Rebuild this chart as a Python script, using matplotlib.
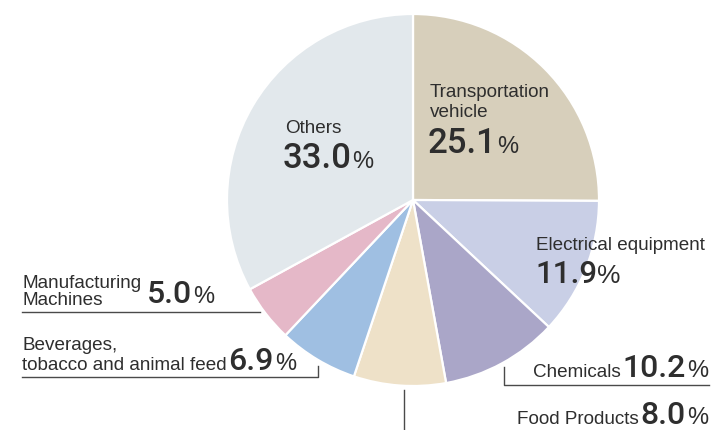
import matplotlib
matplotlib.use("Agg")
import matplotlib.pyplot as plt

categories = ["Transportation\nvehicle", "Electrical equipment", "Chemicals",
              "Food Products", "Beverages,\ntobacco and animal feed",
              "Manufacturing\nMachines", "Others"]
shares = [25.1, 11.9, 10.2, 8.0, 6.9, 5.0, 33.0]
value_labels = ["25.1", "11.9", "10.2", "8.0", "6.9", "5.0", "33.0"]
colors = ["#d7cfbb", "#c9cfe6", "#aaa6c8", "#eee1c8", "#9fbfe2", "#e5b8c8", "#e2e8ec"]

W, H = 715, 430
fig = plt.figure(figsize=(W / 100, H / 100), dpi=100)
ax = fig.add_axes([0, 0, 1, 1])
ax.set_xlim(0, W)
ax.set_ylim(0, H)
ax.set_aspect("equal")
ax.axis("off")

def Y(y):
    return H - y

ax.pie(shares, colors=colors, startangle=90, counterclock=False,
       center=(413, Y(200)), radius=186,
       wedgeprops=dict(edgecolor="white", linewidth=1.6))
ax.set_xlim(0, W)
ax.set_ylim(0, H)

FONT = "Liberation Sans"
NFONT = "Roboto"
TC = "#2e2e2e"
renderer = fig.canvas.get_renderer()

def px_width(t):
    return t.get_window_extent(renderer=renderer).width

def pieces(x, y, parts, align="left", gap=0.0):
    """parts: list of (text, fontsize, is_number); baseline at pixel y."""
    objs = []
    for s, fs, num in parts:
        t = ax.text(0, Y(y), s, fontsize=fs,
                    family=NFONT if num else FONT,
                    fontweight=500 if num else "normal",
                    color=TC, ha="left", va="baseline")
        objs.append(t)
    widths = [px_width(t) + gap for t in objs]
    total = sum(widths) - gap
    cx = x if align == "left" else x - total
    for t, w in zip(objs, widths):
        t.set_x(cx)
        cx += w
    return objs

LS = 13.6  # label font size

# Transportation vehicle
pieces(430, 97, [("Transportation", LS, False)])
pieces(430, 117, [("vehicle", LS, False)])
pieces(428, 153, [(value_labels[0], 25, True), ("%", 17, False)])

# Others
pieces(285, 133, [("Others", LS, False)])
pieces(283, 168, [(value_labels[6], 25, True), ("%", 17, False)])

# Electrical equipment
pieces(536, 250, [("Electrical equipment", LS, False)])
pieces(535, 283, [(value_labels[1], 22.5, True), ("%", 19, False)])

# Chemicals
pieces(708, 377, [("Chemicals", LS, False), (value_labels[2], 23, True), ("%", 17, False)],
       align="right", gap=1.5)

# Food Products
pieces(708, 424, [("Food Products", LS, False), (value_labels[3], 23, True), ("%", 17, False)],
       align="right", gap=1.5)

# Manufacturing Machines
pieces(22, 288, [("Manufacturing", LS, False)])
pieces(22, 305, [("Machines", LS, False)])
pieces(147, 303, [(value_labels[5], 23, True), ("%", 17, False)], gap=1.5)

# Beverages
pieces(22, 350, [("Beverages,", LS, False)])
pieces(22, 370, [("tobacco and animal feed", LS, False), (value_labels[4], 23, True), ("%", 17, False)],
       gap=1.5)

# Leader lines
LC = "#4a4a4a"
lw = 1.0
ax.plot([22, 260], [Y(312), Y(312)], color=LC, lw=lw)
ax.plot([22, 318, 318], [Y(377), Y(377), Y(366)], color=LC, lw=lw)
ax.plot([504, 504, 709], [Y(367), Y(385), Y(385)], color=LC, lw=lw)
ax.plot([404, 404], [Y(390), Y(430)], color=LC, lw=lw)

fig.savefig("out.png", dpi=100)
